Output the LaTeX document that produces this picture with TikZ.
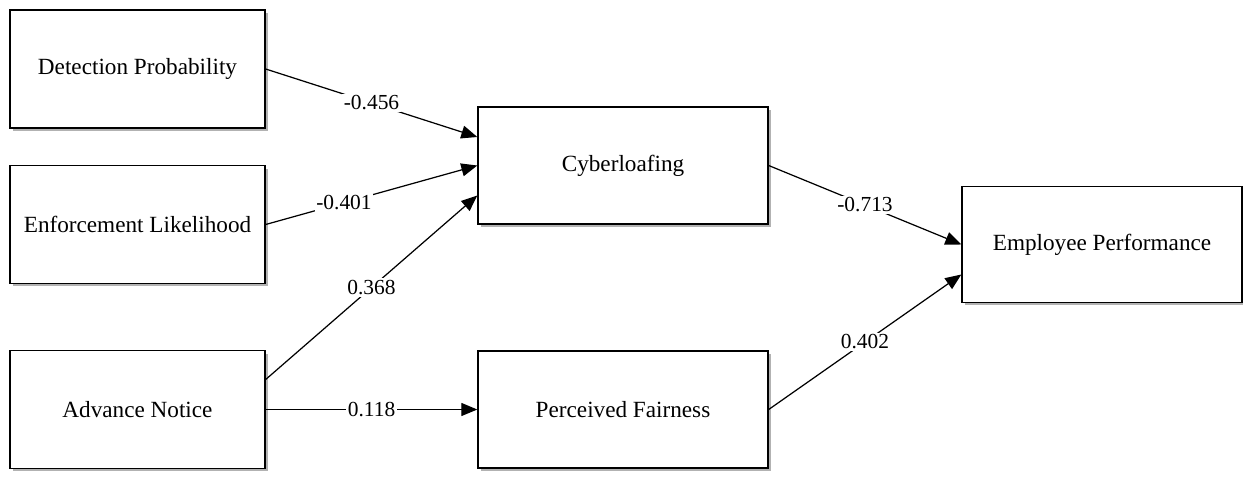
\documentclass[tikz,border=0pt]{standalone}
\usepackage{fontspec}
\setmainfont{Liberation Serif}
\usetikzlibrary{calc}
\usetikzlibrary{shadows}
\usetikzlibrary{arrows.meta}

\begin{document}
\begin{tikzpicture}[x=0.02cm,y=-0.02cm,
  var/.style={draw,line width=0.8pt,fill=white,minimum width=5.1cm,minimum height=2.36cm,
    font=\fontsize{13.2}{15}\selectfont,
    drop shadow={shadow xshift=0.06cm,shadow yshift=-0.06cm,fill=black!30,opacity=1}},
  path/.style={line width=0.7pt,-{Triangle[length=0.32cm,width=0.26cm]}},
  coef/.style={fill=white,inner sep=1pt,font=\fontsize{12.2}{14}\selectfont}]
\useasboundingbox (0,0) rectangle (1243,480);
\def\d{0.6cm}
\node[var] (dp) at (137.5, 69) {Detection Probability};
\node[var] (el) at (137.5, 224.5) {Enforcement Likelihood};
\node[var] (an) at (137.5, 409.5) {Advance Notice};
\node[var,minimum width=5.8cm,minimum height=2.34cm] (cy) at (623, 165.5) {Cyberloafing};
\node[var,minimum width=5.8cm,minimum height=2.34cm] (pf) at (623, 409.5) {Perceived Fairness};
\node[var,minimum width=5.6cm,minimum height=2.32cm] (ep) at (1102, 244.5) {Employee Performance};

\draw[path] (dp.east) -- node[coef] {-0.456} ($(cy.west)+(0,0.57cm)$);
\draw[path] (el.east) -- node[coef,pos=0.37] {-0.401} (cy.west);
\draw[path] ($(an.east)+(0,\d)$) -- node[coef] {0.368} ($(cy.west)-(0,\d)$);
\draw[path] (an.east) -- node[coef] {0.118} (pf.west);
\draw[path] (cy.east) -- node[coef] {-0.713} (ep.west);
\draw[path] (pf.east) -- node[coef] {0.402} ($(ep.west)-(0,\d)$);
\end{tikzpicture}
\end{document}
